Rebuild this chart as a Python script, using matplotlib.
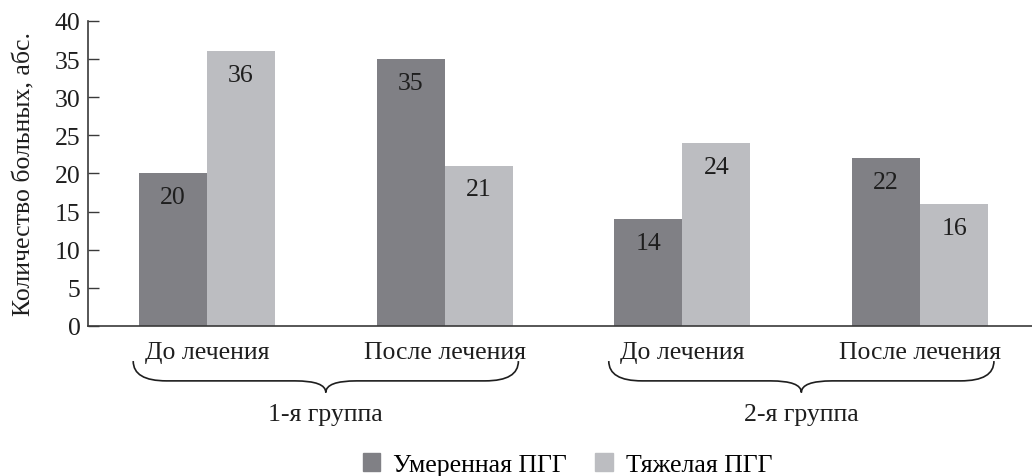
import matplotlib.pyplot as plt
from matplotlib.path import Path
from matplotlib.patches import PathPatch, Patch
import matplotlib.transforms as mtransforms
import numpy as np

plt.rcParams['font.family'] = ['Liberation Serif', 'DejaVu Serif']

# Data
categories = ["До лечения", "После лечения", "До лечения", "После лечения"]
groups = ["1-я группа", "2-я группа"]
moderate = [20, 35, 14, 22]
severe = [36, 21, 24, 16]
series_names = ["Умеренная ПГГ", "Тяжелая ПГГ"]

dark = '#808085'
light = '#bcbdc1'
axis_col = '#3a3a3a'
txt = '#1e1e1e'
fs = 18.5

fig = plt.figure(figsize=(10.32, 4.77), dpi=100)
ax = fig.add_axes([0.0853, 0.3145, 0.9147, 0.6394])

x = np.arange(len(categories))
w = 0.286
b1 = ax.bar(x - w / 2, moderate, w, color=dark, label=series_names[0])
b2 = ax.bar(x + w / 2, severe, w, color=light, label=series_names[1])

# value labels inside bars, near the top
for bars, vals in ((b1, moderate), (b2, severe)):
    for rect, v in zip(bars, vals):
        ax.annotate(str(v), (rect.get_x() + rect.get_width() / 2, v),
                    xytext=(0, -17), textcoords='offset points',
                    ha='center', va='center', fontsize=fs, color=txt)

ax.set_xlim(-0.5, 3.47)
ax.set_ylim(0, 40)
ax.set_yticks(range(0, 41, 5))
ax.set_xticks(x)
ax.set_xticklabels(categories, fontsize=fs)
ax.tick_params(axis='x', length=0, pad=11, colors=txt)
ax.tick_params(axis='y', direction='in', length=8, width=1, labelsize=fs,
               colors=axis_col, labelcolor=txt, pad=5.5)
for s in ('top', 'right'):
    ax.spines[s].set_visible(False)
for s in ('left', 'bottom'):
    ax.spines[s].set_color(axis_col)
    ax.spines[s].set_linewidth(1.2)
ax.set_ylabel("Количество больных, абс.", fontsize=fs, color=txt, labelpad=14)

# curly braces under each group
trans = mtransforms.blended_transform_factory(ax.transData, ax.transAxes)
y_end, y_mid, y_tip = -0.115, -0.18, -0.218
for gi, gname in enumerate(groups):
    xc = 2 * gi + 0.5
    x0, x1 = xc - 0.81, xc + 0.81
    d = 0.14
    dt = 0.13
    verts = [(x0, y_end), (x0, y_mid), (x0 + d, y_mid),
             (xc - dt, y_mid),
             (xc, y_mid), (xc, y_tip),
             (xc, y_mid), (xc + dt, y_mid),
             (x1 - d, y_mid),
             (x1, y_mid), (x1, y_end)]
    codes = [Path.MOVETO, Path.CURVE3, Path.CURVE3,
             Path.LINETO,
             Path.CURVE3, Path.CURVE3,
             Path.CURVE3, Path.CURVE3,
             Path.LINETO,
             Path.CURVE3, Path.CURVE3]
    ax.add_patch(PathPatch(Path(verts, codes), transform=trans, fill=False,
                           lw=1.2, edgecolor=txt, clip_on=False))
    ax.text(xc, -0.29, gname, transform=trans, ha='center', va='center',
            fontsize=fs, color=txt)

handles = [Patch(color=dark), Patch(color=light)]
fig.legend(handles, series_names, loc='center', bbox_to_anchor=(0.55, 0.025),
           ncol=2, frameon=False, fontsize=fs, handlelength=0.7, handleheight=0.7,
           handletextpad=0.5, columnspacing=1.1)

fig.savefig('out.png', dpi=100)
